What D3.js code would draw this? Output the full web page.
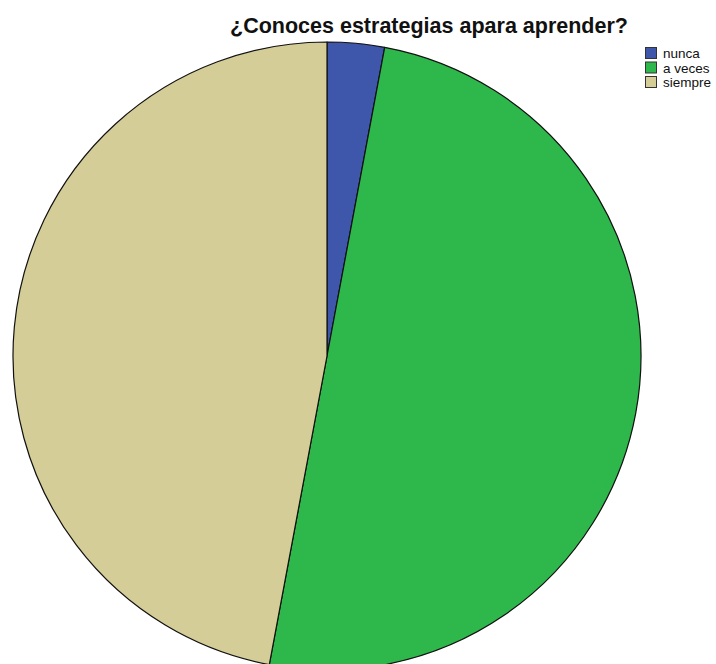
<!DOCTYPE html>
<html><head><meta charset="utf-8">
<script src="https://cdn.jsdelivr.net/npm/d3@7"></script>
<style>body{margin:0;background:#fff}svg{display:block}</style>
</head><body>
<svg id="c" width="716" height="664"></svg>
<script>
const title = "¿Conoces estrategias apara aprender?";
const categories = ["nunca", "a veces", "siempre"];
const counts = [1, 17, 16];
const colors = ["#3e57ab", "#2eb74b", "#d4cd98"];

const svg = d3.select("#c");
const cx = 327, cy = 356, r = 314;

svg.append("text").attr("x", 429).attr("y", 33).attr("text-anchor", "middle")
  .attr("font-family", "Arial, 'Liberation Sans', sans-serif").attr("font-weight", "bold")
  .attr("font-size", 21.5).attr("fill", "#111").text(title);

const color = d3.scaleOrdinal().domain(categories).range(colors);
const pie = d3.pie().sort(null).value(d => d.v);
const arc = d3.arc().innerRadius(0).outerRadius(r);
const data = categories.map((c, i) => ({c, v: counts[i]}));

svg.append("g").attr("transform", `translate(${cx},${cy})`)
  .selectAll("path").data(pie(data)).join("path")
  .attr("d", arc).attr("fill", d => color(d.data.c))
  .attr("stroke", "#111").attr("stroke-width", 1.2).attr("stroke-linejoin", "round");

const leg = svg.append("g").attr("transform", "translate(645,47)");
const rows = leg.selectAll("g").data(categories).join("g")
  .attr("transform", (d, i) => `translate(0,${i * 14.5})`);
rows.append("rect").attr("x", 0.5).attr("y", 0.5).attr("width", 11).attr("height", 11)
  .attr("fill", d => color(d)).attr("stroke", "#333").attr("stroke-width", 1);
rows.append("text").attr("x", 18).attr("y", 11)
  .attr("font-family", "Arial, 'Liberation Sans', sans-serif").attr("font-size", 13.5)
  .attr("fill", "#111").text(d => d);
</script>
</body></html>
